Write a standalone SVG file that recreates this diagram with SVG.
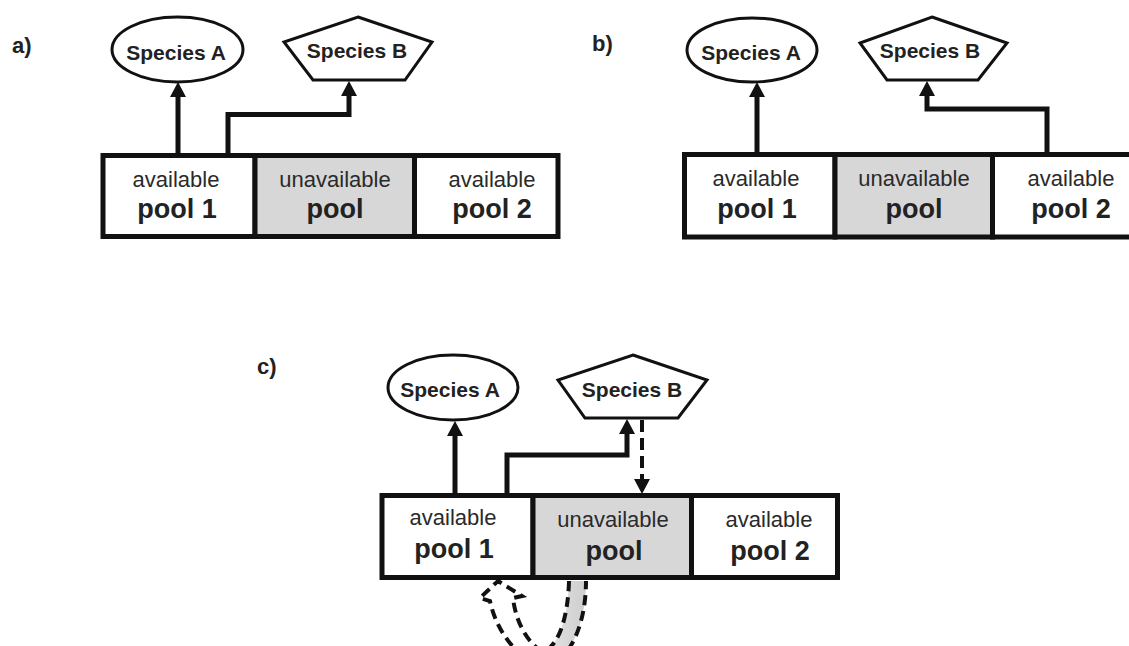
<svg xmlns="http://www.w3.org/2000/svg" width="1129" height="646" viewBox="0 0 1129 646">
<defs>
<style>
.lbl{font-family:"Liberation Sans",Arial,sans-serif;font-weight:bold;font-size:22px;fill:#222}
.sp{font-family:"Liberation Sans",Arial,sans-serif;font-weight:bold;font-size:21px;fill:#222;text-anchor:middle}
.sm{font-family:"Liberation Sans",Arial,sans-serif;font-size:22px;fill:#2a2a2a;text-anchor:middle}
.big{font-family:"Liberation Sans",Arial,sans-serif;font-weight:bold;font-size:27px;fill:#222;text-anchor:middle}
.shape{fill:#fff;stroke:#111;stroke-width:3}
.cell{fill:#fff;stroke:#111;stroke-width:5}
.gray{fill:#d7d7d7}
.conn{fill:none;stroke:#111;stroke-width:5;marker-end:url(#ah)}
.dash{fill:none;stroke:#111;stroke-width:4;stroke-dasharray:12 6;marker-end:url(#ah)}
.hollow{fill:url(#hg);stroke:#111;stroke-width:4;stroke-dasharray:10 6}
</style>
<marker id="ah" markerUnits="userSpaceOnUse" markerWidth="16" markerHeight="16" refX="4" refY="8" orient="auto"><path d="M0,0 L15,8 L0,16 z" fill="#111"/></marker>
<linearGradient id="hg" gradientUnits="userSpaceOnUse" x1="585" y1="0" x2="500" y2="0"><stop offset="0" stop-color="#cfcfcf"/><stop offset="0.3" stop-color="#dcdcdc"/><stop offset="0.65" stop-color="#ffffff"/><stop offset="1" stop-color="#ffffff"/></linearGradient>
</defs>
<rect width="1129" height="646" fill="#fff"/>

<g id="panel-labels">
<text class="lbl" x="12" y="53">a)</text>
<text class="lbl" x="592" y="51">b)</text>
<text class="lbl" x="257" y="374">c)</text>
</g>

<!-- Panel a -->
<g id="a-speciesA"><ellipse class="shape" cx="177.5" cy="49.5" rx="65.5" ry="32.5"/><text class="sp" x="176" y="60">Species A</text></g>
<g id="a-speciesB"><polygon class="shape" points="358,17 432,42 405,80 313,80 284,42"/><text class="sp" x="357" y="58">Species B</text></g>
<g id="a-pool1"><rect class="cell" x="103" y="155.5" width="152" height="81"/><text class="sm" x="176" y="187">available</text><text class="big" x="177" y="218">pool 1</text></g>
<g id="a-unavail"><rect class="cell gray" x="255" y="155.5" width="159.5" height="81"/><text class="sm" x="335" y="187">unavailable</text><text class="big" x="335" y="218">pool</text></g>
<g id="a-pool2"><rect class="cell" x="414.5" y="155.5" width="143.5" height="81"/><text class="sm" x="492" y="187">available</text><text class="big" x="492" y="218">pool 2</text></g>

<!-- Panel b -->
<g id="b-speciesA"><ellipse class="shape" cx="752" cy="50" rx="65" ry="32"/><text class="sp" x="751" y="60">Species A</text></g>
<g id="b-speciesB"><polygon class="shape" points="932,17 1007,43 978,80 887,80 860,43"/><text class="sp" x="930" y="58">Species B</text></g>
<g id="b-pool1"><rect class="cell" x="684.5" y="154.5" width="150.5" height="82.5"/><text class="sm" x="756" y="186">available</text><text class="big" x="757" y="218">pool 1</text></g>
<g id="b-unavail"><rect class="cell gray" x="835" y="154.5" width="157.5" height="82.5"/><text class="sm" x="914" y="186">unavailable</text><text class="big" x="914" y="218">pool</text></g>
<g id="b-pool2"><rect class="cell" x="992.5" y="154.5" width="160" height="82.5"/><text class="sm" x="1071" y="186">available</text><text class="big" x="1071" y="218">pool 2</text></g>

<!-- Panel c -->
<g id="c-speciesA"><ellipse class="shape" cx="453" cy="387.5" rx="65" ry="32.5"/><text class="sp" x="450" y="397">Species A</text></g>
<g id="c-speciesB"><polygon class="shape" points="633,355 707,380 678,418 585,418 558,380"/><text class="sp" x="632" y="397">Species B</text></g>
<g id="c-pool1"><rect class="cell" x="382" y="495.5" width="151" height="82"/><text class="sm" x="453" y="525">available</text><text class="big" x="454" y="558">pool 1</text></g>
<g id="c-unavail"><rect class="cell gray" x="533" y="495.5" width="158.5" height="82"/><text class="sm" x="613" y="527">unavailable</text><text class="big" x="614" y="560">pool</text></g>
<g id="c-pool2"><rect class="cell" x="691.5" y="495.5" width="146" height="82"/><text class="sm" x="769" y="527">available</text><text class="big" x="770" y="560">pool 2</text></g>

<g id="connectors">
<path class="conn" d="M178 155 V93"/>
<path class="conn" d="M228 155 V114.5 H349 V92"/>
<path class="conn" d="M757 154 V93"/>
<path class="conn" d="M1047 154 V109 H927 V92"/>
<path class="conn" d="M455 493 V432"/>
<path class="conn" d="M507 493 V455 H627 V430"/>
<path class="dash" d="M642 420 V483"/>
<path class="hollow" d="M569 581 C568 615 560 645 543 652 C530 645 516 625 513 598 L522 596 L498 581 L480 598 L490 601 C497 635 522 662 545 668 C570 660 586 625 586 581"/>
</g>
</svg>
